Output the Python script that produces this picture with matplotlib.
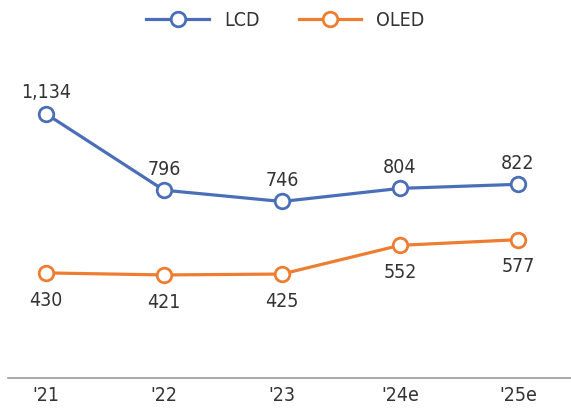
import matplotlib
matplotlib.use("Agg")
import matplotlib.pyplot as plt

plt.rcParams['font.family'] = ['DejaVu Sans']
plt.rcParams['font.stretch'] = 'condensed'

years = ["'21", "'22", "'23", "'24e", "'25e"]
lcd = [1134, 796, 746, 804, 822]
oled = [430, 421, 425, 552, 577]

blue = '#4a6fb8'
orange = '#ee7d31'
txt = '#333333'

fig = plt.figure(figsize=(5.71, 4.10), dpi=100)
ax = fig.add_axes([8 / 571, 1 - 379 / 410, 1 - 8 / 571, 339 / 410])

x = list(range(len(years)))
ax.plot(x, lcd, color=blue, lw=2.3, marker='o', ms=10.5, mfc='white',
        mec=blue, mew=2, label='LCD', zorder=3)
ax.plot(x, oled, color=orange, lw=2.3, marker='o', ms=10.5, mfc='white',
        mec=orange, mew=2, label='OLED', zorder=3)

for i, v in enumerate(lcd):
    ax.annotate(f'{v:,}', (i, v), xytext=(0, 9), textcoords='offset points',
                ha='center', va='bottom', fontsize=14, color=txt)
for i, v in enumerate(oled):
    ax.annotate(f'{v:,}', (i, v), xytext=(0, -12), textcoords='offset points',
                ha='center', va='top', fontsize=14, color=txt)

ax.set_xlim(-0.322, 4.45)
ax.set_ylim(-35, 1465)
ax.set_xticks(x)
ax.set_xticklabels(years, fontsize=14, color=txt)
ax.tick_params(axis='x', length=0, pad=5)
ax.set_yticks([])
for s in ['top', 'right', 'left']:
    ax.spines[s].set_visible(False)
ax.spines['bottom'].set_color('#999999')
ax.spines['bottom'].set_linewidth(1.2)

fig.legend(loc='upper center', bbox_to_anchor=(0.5, 1.015), ncol=2, frameon=False,
           fontsize=14, handlelength=3.2, handletextpad=0.8, columnspacing=2.0,
           labelcolor=txt)

fig.savefig('out.png', dpi=100)
